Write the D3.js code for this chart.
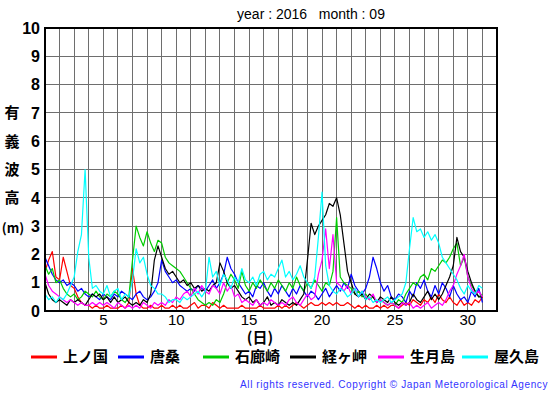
<!DOCTYPE html>
<html><head><meta charset="utf-8">
<script src="https://cdn.jsdelivr.net/npm/d3@7"></script>
<style>
body{margin:0;background:#fff;}
svg{display:block;}
</style></head>
<body>
<script>
// ---- data (significant wave height, m), 6-hourly from day 1.00 to day 31.00 ----
const stepDays = 0.25;
const stations = ["上ノ国","唐桑","石廊崎","経ヶ岬","生月島","屋久島"];
const colors = ["#ff0000","#0000ff","#00cc00","#000000","#ff00ff","#00ffff"];
const yTicks = [0,1,2,3,4,5,6,7,8,9,10];
const xTicks = [5,10,15,20,25,30];
const yLabelChars = ["有","義","波","高","(m)"];

const kaminokuni = [1.4,1.8,2.1,1.2, 1.1,1.9,1.4,0.9, 0.8,0.5,0.3,0.2, 0.2,0.1,0.2,0.1, 0.1,0.2,0.1,0.1,
 0.1,0.2,0.1,0.3, 1.5,0.6,0.2,0.1, 0.1,0.2,0.1,0.1, 0.2,0.1,0.1,0.2, 0.1,0.2,0.1,0.1,
 0.2,0.3,0.1,0.2, 0.2,0.1,0.3,0.2, 0.1,0.2,0.1,0.1, 0.1,0.1,0.2,0.1, 0.1,0.1,0.1,0.2,
 0.1,0.1,0.1,0.1, 0.2,0.1,0.2,0.1, 0.2,0.3,0.2,0.1, 0.2,0.3,0.2,0.2, 0.3,0.2,0.3,0.2,
 0.3,0.2,0.2,0.3, 0.2,0.1,0.2,0.1, 0.2,0.1,0.1,0.2, 0.1,0.2,0.1,0.2, 0.2,0.1,0.2,0.3,
 0.2,0.4,0.3,0.2, 0.4,0.3,0.5,0.3, 0.6,0.4,0.3,0.5, 0.3,0.2,0.4,0.2, 0.3,0.2,0.4,0.3, 0.5];
const karakuwa = [1.9,1.6,1.3,1.1, 1.0,1.1,0.9,1.0, 0.9,0.7,0.8,0.6, 0.5,0.6,0.5,0.4, 0.6,0.5,0.4,0.6,
 0.5,0.7,0.6,0.5, 0.4,0.6,0.7,0.5, 0.4,0.5,0.7,1.0, 1.8,1.4,1.2,1.0, 1.1,0.9,0.8,0.7,
 0.8,0.7,0.9,0.8, 0.7,0.9,1.1,0.8, 1.0,1.3,1.9,1.5, 1.3,1.0,0.8,0.6, 0.7,0.5,0.9,0.8,
 1.0,0.7,0.5,0.8, 0.6,0.9,0.7,0.5, 0.8,0.6,0.9,0.7, 0.5,0.7,0.6,0.4, 0.6,0.8,0.5,0.7,
 0.9,0.7,1.0,0.8, 1.3,0.9,0.7,0.6, 0.8,1.2,1.9,1.5, 1.0,0.7,0.9,0.5, 0.4,0.6,0.5,0.3,
 0.7,0.5,1.0,0.8, 1.1,0.7,0.5,0.9, 0.6,1.0,0.8,0.5, 0.9,0.6,0.4,0.5, 0.3,0.7,0.5,0.8, 0.3];
const irozaki = [1.6,1.3,1.5,1.0, 1.1,0.8,0.6,0.5, 0.6,0.4,0.5,0.7, 0.6,0.5,0.7,0.5, 0.4,0.6,0.5,0.7,
 0.6,0.4,0.3,0.5, 1.8,3.0,2.6,2.3, 2.8,2.4,2.1,2.5, 2.4,1.9,1.7,1.6, 1.5,1.4,1.2,1.0,
 0.8,0.6,0.4,0.3, 0.2,0.3,0.2,0.4, 0.3,0.6,1.0,1.3, 1.1,0.8,1.4,0.9, 0.7,1.0,0.8,1.1,
 0.9,0.7,1.0,0.8, 1.1,0.9,0.7,1.0, 0.8,1.2,0.9,0.7, 1.0,0.8,1.1,0.9, 0.7,1.0,0.9,1.4,
 3.3,1.2,1.0,0.9, 0.8,0.6,0.7,0.5, 0.6,0.4,0.5,0.3, 0.4,0.3,0.2,0.3, 0.2,0.4,0.3,0.6,
 0.8,1.0,0.9,1.2, 1.3,1.1,1.5,1.4, 1.6,1.8,1.7,1.9, 2.2,2.4,1.6,1.9, 1.2,0.9,0.7,0.5, 0.6];
const kyogamisaki = [1.0,0.6,0.4,0.3, 0.4,0.3,0.2,0.4, 0.3,0.4,0.3,0.2, 0.4,0.6,0.5,0.6, 0.4,0.5,0.3,0.5,
 0.3,0.4,0.5,0.3, 0.2,0.3,0.2,0.4, 0.3,0.6,1.8,2.3, 1.9,1.5,1.3,1.4, 1.2,1.0,1.1,0.9,
 1.0,0.8,0.9,0.7, 0.8,0.7,0.9,1.0, 1.7,1.4,1.0,0.8, 0.9,0.7,0.5,0.4, 0.5,0.3,0.4,0.2,
 0.3,0.5,0.2,0.3, 0.2,0.4,0.3,0.2, 0.3,0.2,0.4,0.6, 1.8,3.1,2.7,3.0, 3.2,3.4,3.8,3.7,
 4.0,3.4,2.4,1.4, 1.0,0.6,0.5,0.6, 0.4,0.6,0.5,0.3, 0.5,0.4,0.3,0.5, 0.3,0.2,0.3,0.2,
 0.3,0.6,0.4,0.3, 0.5,0.7,0.4,0.6, 0.4,0.6,0.9,1.2, 1.6,2.6,2.1,1.9, 1.4,1.0,0.7,0.5, 0.5];
const ikitsukishima = [1.3,0.9,0.7,0.6, 0.5,0.4,0.3,0.4, 0.3,0.2,0.3,0.2, 0.2,0.3,0.2,0.3, 0.2,0.3,0.2,0.1,
 0.3,0.2,0.1,0.2, 0.1,0.2,0.1,0.3, 0.2,0.1,0.3,0.2, 0.3,0.2,0.4,0.3, 0.5,0.4,0.6,0.7,
 0.5,0.8,0.6,0.9, 0.7,0.6,0.9,0.8, 0.6,1.0,0.7,0.9, 0.5,0.6,0.3,0.4, 0.3,0.2,0.4,0.2,
 0.3,0.2,0.4,0.3, 0.2,0.3,0.2,0.4, 0.5,0.3,0.2,0.4, 0.6,0.4,0.5,1.3, 1.8,2.9,1.5,2.7,
 1.0,0.9,0.7,0.9, 0.6,0.8,0.5,0.7, 0.5,0.4,0.6,0.3, 0.4,0.3,0.2,0.3, 0.2,0.1,0.3,0.2,
 0.3,0.1,0.2,0.1, 0.2,0.3,0.1,0.2, 0.3,0.2,0.4,0.7, 0.9,1.3,1.6,2.0, 1.2,0.8,0.6,0.7, 0.5];
const yakushima = [0.6,0.4,0.5,0.3, 0.5,0.4,0.6,0.9, 1.2,2.1,2.7,5.0, 1.9,0.8,0.9,0.7, 0.6,0.9,0.5,0.7,
 0.8,0.4,0.6,0.5, 1.1,2.2,1.7,1.9, 1.3,0.9,0.8,0.6, 0.6,0.5,0.3,0.4, 0.4,0.3,0.5,0.4,
 0.5,0.6,0.7,0.5, 0.7,1.9,1.2,1.4, 0.9,1.3,1.1,0.8, 1.2,1.0,1.5,1.1, 1.0,1.2,0.9,1.3,
 1.4,1.1,1.3,1.2, 1.5,1.8,1.2,1.4, 1.1,1.3,1.6,1.2, 1.0,0.8,1.2,2.6, 4.2,1.6,0.9,0.7,
 0.6,0.8,0.7,0.5, 0.6,0.8,0.5,0.7, 0.4,0.5,0.3,0.4, 0.3,0.4,0.5,0.3, 0.4,0.5,0.6,1.0,
 2.2,3.3,2.8,2.9, 2.6,2.8,2.5,2.7, 2.4,1.9,1.7,1.5, 1.3,1.1,0.8,0.6, 0.9,0.7,0.6,0.9, 0.8];
const series = [kaminokuni, karakuwa, irozaki, kyogamisaki, ikitsukishima, yakushima];

// ---- layout ----
const W = 555, H = 395;
const m = {left:45, right:497, top:28, bottom:311};
const x = d3.scaleLinear().domain([1,32]).range([m.left, m.right]);
const y = d3.scaleLinear().domain([0,10]).range([m.bottom, m.top]);

const svg = d3.select("body").append("svg").attr("width",W).attr("height",H);
const latin = "'Liberation Sans', Arial, sans-serif";
const cjk = "'Noto Sans CJK JP', 'Noto Sans CJK SC', sans-serif";

// grid
const g = svg.append("g");
g.selectAll("line.v").data(d3.range(2,32)).join("line")
  .attr("x1",d=>x(d)).attr("x2",d=>x(d)).attr("y1",m.top).attr("y2",m.bottom)
  .attr("stroke","#6e6e6e").attr("stroke-width",1).attr("shape-rendering","crispEdges");
g.selectAll("line.h").data(yTicks.slice(1,-1)).join("line")
  .attr("x1",m.left).attr("x2",m.right).attr("y1",d=>y(d)).attr("y2",d=>y(d))
  .attr("stroke","#6e6e6e").attr("stroke-width",1).attr("shape-rendering","crispEdges");

// series lines
const line = d3.line().x((d,i)=>x(1+i*stepDays)).y(d=>y(d));
svg.append("g").selectAll("path").data(series).join("path")
  .attr("d",line).attr("fill","none")
  .attr("stroke",(d,i)=>colors[i]).attr("stroke-width",1.2).attr("stroke-linejoin","round");

// border
svg.append("rect").attr("x",m.left).attr("y",m.top)
  .attr("width",m.right-m.left).attr("height",m.bottom-m.top)
  .attr("fill","none").attr("stroke","#000").attr("stroke-width",2);

// y tick labels
svg.append("g").selectAll("text").data(yTicks).join("text")
  .attr("x",40).attr("y",d=>y(d)).attr("dy","0.36em").attr("text-anchor","end")
  .attr("font-family",latin).attr("font-weight","bold").attr("font-size",16)
  .text(d=>d);

// x tick labels
svg.append("g").selectAll("text").data(xTicks).join("text")
  .attr("x",d=>x(d)).attr("y",325).attr("text-anchor","middle")
  .attr("font-family",latin).attr("font-size",15).text(d=>d);

// title
svg.append("text").attr("x",311).attr("y",19).attr("text-anchor","middle")
  .attr("font-family",latin).attr("font-size",14).style("white-space","pre")
  .text("year : 2016   month : 09");

// x axis title
svg.append("text").attr("x",260).attr("y",343).attr("text-anchor","middle")
  .attr("font-family",cjk).attr("font-size",15).attr("font-weight","bold").text("(日)");

// y axis title (vertical stack)
svg.append("g").selectAll("text").data(yLabelChars).join("text")
  .attr("x",(d,i)=>i===4?13:12).attr("y",(d,i)=>y(7-i)+(i===4?2:0)).attr("dy","0.36em").attr("text-anchor","middle")
  .attr("font-family",cjk).attr("font-weight","bold").attr("font-size",(d,i)=>i===4?13:15).text(d=>d);

// legend
const legX = [31,118,203,290,378,462];
const lg = svg.append("g").selectAll("g").data(stations).join("g");
lg.append("line").attr("x1",(d,i)=>legX[i]).attr("x2",(d,i)=>legX[i]+26)
  .attr("y1",357).attr("y2",357).attr("stroke",(d,i)=>colors[i]).attr("stroke-width",3);
lg.append("text").attr("x",(d,i)=>legX[i]+32).attr("y",357).attr("dy","0.36em")
  .attr("font-family",cjk).attr("font-weight","bold").attr("font-size",15).text(d=>d);

// copyright
svg.append("text").attr("x",548).attr("y",388).attr("text-anchor","end")
  .attr("font-family",latin).attr("font-size",10).attr("letter-spacing",0.6)
  .attr("fill","#3333ff").text("All rights reserved. Copyright © Japan Meteorological Agency");
</script>
</body></html>
